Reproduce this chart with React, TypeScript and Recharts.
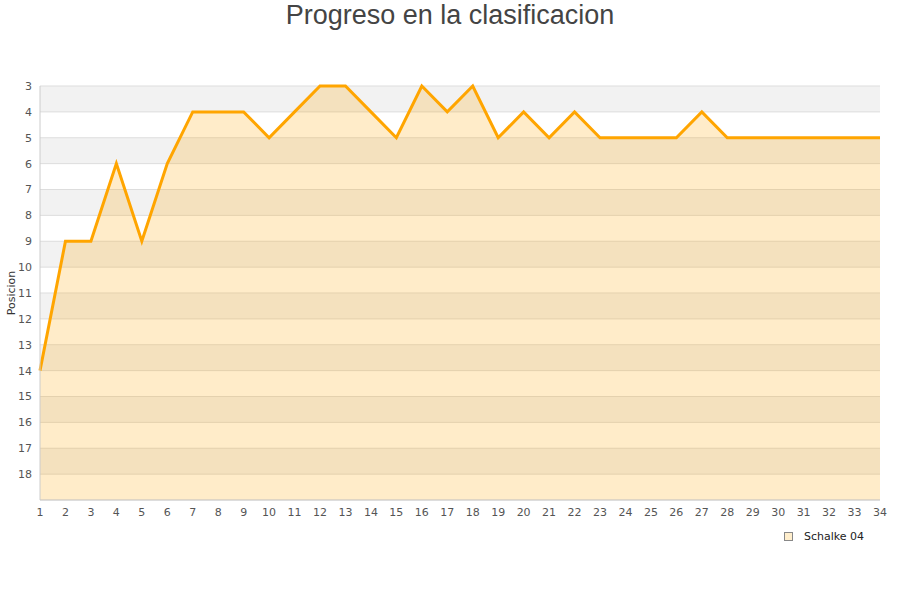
import { AreaChart, Area, XAxis, YAxis, CartesianGrid } from 'recharts';

const jornadas = [
  1, 2, 3, 4, 5, 6, 7, 8, 9, 10, 11, 12, 13, 14, 15, 16, 17,
  18, 19, 20, 21, 22, 23, 24, 25, 26, 27, 28, 29, 30, 31, 32, 33, 34,
];
const posiciones = [
  14, 9, 9, 6, 9, 6, 4, 4, 4, 5, 4, 3, 3, 4, 5, 3, 4,
  3, 5, 4, 5, 4, 5, 5, 5, 5, 4, 5, 5, 5, 5, 5, 5, 5,
];
const yTicks = [3, 4, 5, 6, 7, 8, 9, 10, 11, 12, 13, 14, 15, 16, 17, 18];
const teamName = 'Schalke 04';
const title = 'Progreso en la clasificacion';
const yLabel = 'Posicion';

const data = jornadas.map((j, i) => ({ jornada: j, pos: posiciones[i] }));

const tickStyle = { fontSize: 11, fill: '#555', fontFamily: 'DejaVu Sans' };

export default function App() {
  return (
    <div style={{ position: 'absolute', left: 0, top: 0, width: 900, height: 600, background: '#fff' }}>
      <div
        style={{
          position: 'absolute', top: -1, left: 0, width: 900, textAlign: 'center',
          fontFamily: 'Liberation Sans', fontSize: 27, color: '#444', lineHeight: '32px',
        }}
      >
        {title}
      </div>
      <AreaChart width={900} height={600} data={data} margin={{ top: 86, right: 20, left: 0, bottom: 70 }}>
        <CartesianGrid
          vertical={false}
          stroke="#ddd"
          horizontalFill={['#f2f2f2', '#ffffff']}
          fillOpacity={1}
        />
        <XAxis
          dataKey="jornada"
          type="number"
          domain={[1, 34]}
          ticks={jornadas}
          interval={0}
          tick={tickStyle}
          tickLine={false}
          axisLine={{ stroke: '#ccc' }}
          height={30}
        />
        <YAxis
          reversed
          type="number"
          domain={[3, 19]}
          ticks={yTicks}
          interval={0}
          tick={tickStyle}
          tickLine={false}
          axisLine={{ stroke: '#ccc' }}
          width={40}
          label={{
            value: yLabel, angle: -90, position: 'insideLeft', offset: 11,
            style: { fontSize: 11, fill: '#333', fontFamily: 'DejaVu Sans', textAnchor: 'middle' },
          }}
        />
        <YAxis
          yAxisId="r"
          orientation="right"
          reversed
          type="number"
          domain={[3, 19]}
          tick={false}
          tickLine={false}
          axisLine={{ stroke: '#ddd' }}
          width={0}
        />
        <Area
          type="linear"
          dataKey="pos"
          baseValue={19}
          stroke="#ffa500"
          strokeWidth={3}
          fill="#ffa500"
          fillOpacity={0.21}
          dot={false}
          activeDot={false}
          isAnimationActive={false}
        />
      </AreaChart>
      <div
        style={{
          position: 'absolute', left: 784, top: 530, display: 'flex', alignItems: 'center',
          fontFamily: 'DejaVu Sans', fontSize: 11, color: '#222',
        }}
      >
        <span
          style={{
            display: 'inline-block', width: 7, height: 7, background: '#ffeecc',
            border: '1px solid #888', marginRight: 11,
          }}
        />
        {teamName}
      </div>
    </div>
  );
}
